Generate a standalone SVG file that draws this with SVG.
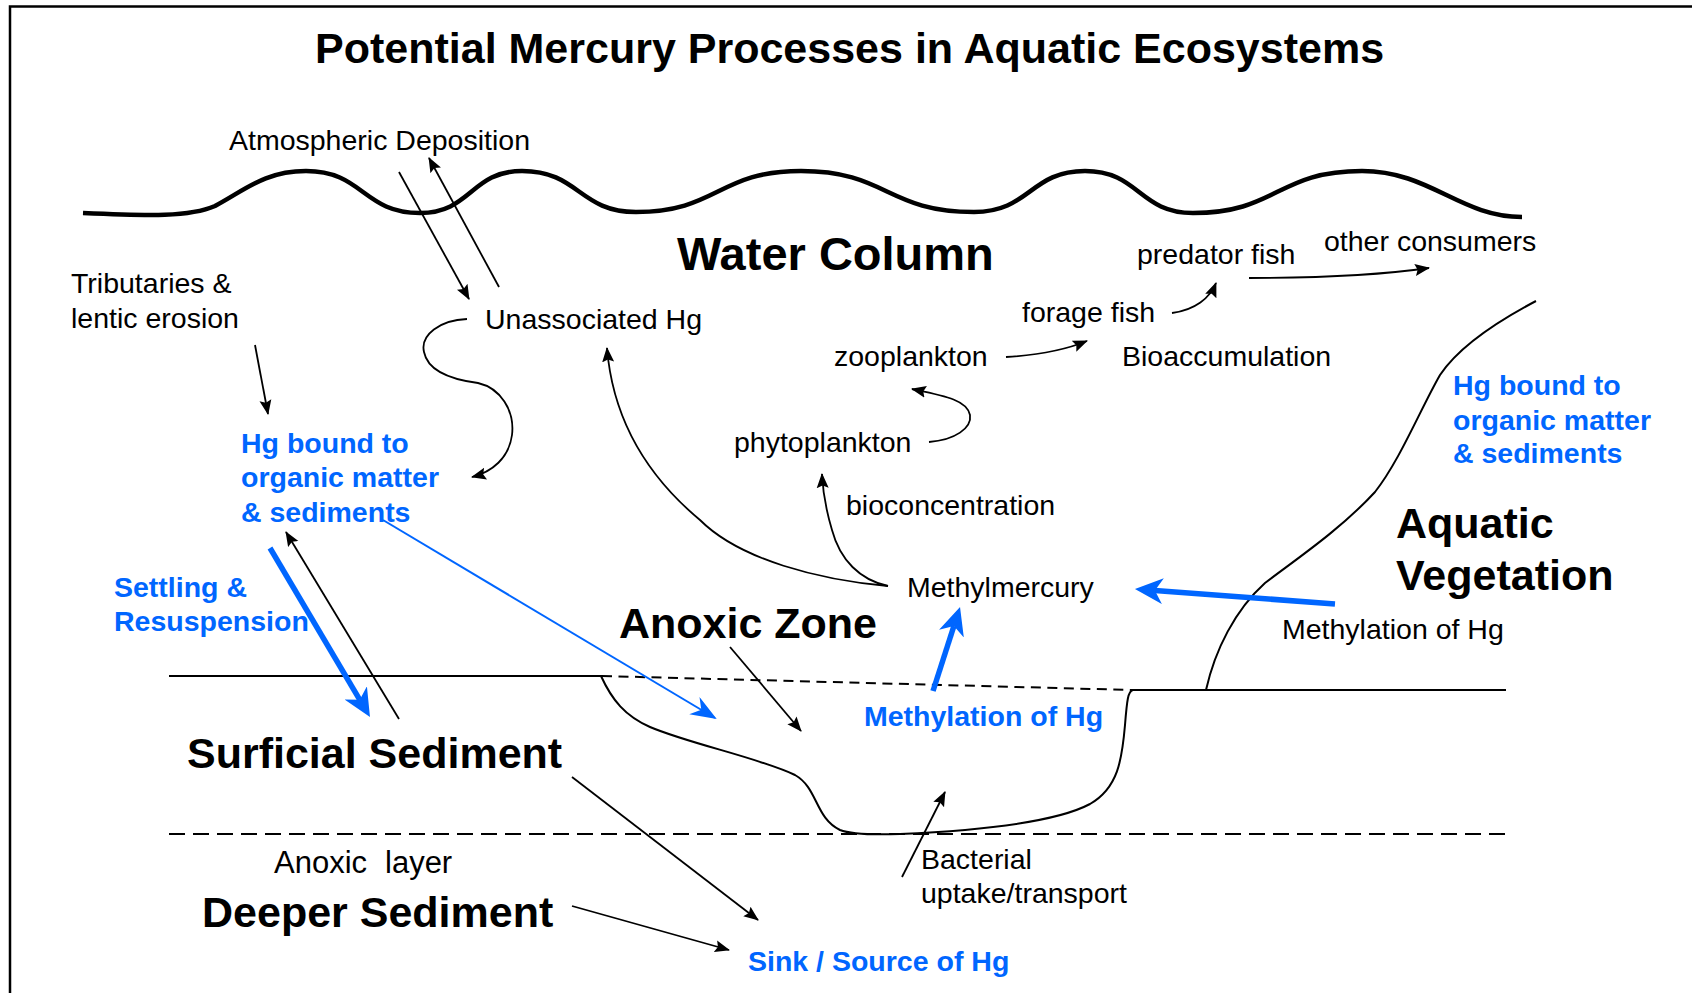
<svg xmlns="http://www.w3.org/2000/svg" width="1692" height="993" viewBox="0 0 1692 993">
<style>
text{font-family:"Liberation Sans",Arial,sans-serif;}
.t{font-size:28.5px;fill:#000}
.b{font-size:28.5px;font-weight:bold;fill:#0066ff}
.h{font-size:43px;font-weight:bold;fill:#000}
.c{fill:none;stroke:#000;stroke-width:1.8}
.cb{fill:none;stroke:#0066ff;stroke-width:5.5}
.cbt{fill:none;stroke:#0066ff;stroke-width:2}
.ln{fill:none;stroke:#000;stroke-width:2}
</style>
<defs>
<marker id="ah" markerUnits="userSpaceOnUse" markerWidth="16" markerHeight="14" refX="14" refY="6.5" orient="auto">
<path d="M0,0.5 L15,6.5 L0,12.5 L2.5,6.5 Z" fill="#000"/>
</marker>
<marker id="ahb" markerUnits="userSpaceOnUse" markerWidth="30" markerHeight="28" refX="8" refY="13" orient="auto">
<path d="M0,0 L28,13 L0,26 L8,13 Z" fill="#0066ff"/>
</marker>
<marker id="ahbt" markerUnits="userSpaceOnUse" markerWidth="28" markerHeight="22" refX="24" refY="10" orient="auto">
<path d="M0,0 L26,10 L0,20 L8,10 Z" fill="#0066ff"/>
</marker>
</defs>
<rect width="1692" height="993" fill="#fff"/>
<g id="scene">
<rect x="10" y="6.5" width="1700" height="1000" fill="none" stroke="#000" stroke-width="2.5"/>
<path id="surface" d="M83 213 C150 216 190 217 215 206 C245 190 265 171 306 171 C363 171 363 213 420 213 C471 213 471 171 522 171 C579 171 579 212 636 212 C718 212 718 171 801 171 C887 171 887 212 974 212 C1030 212 1030 171 1085 171 C1139 171 1139 213 1193 213 C1277 213 1277 171 1362 171 C1430 171 1460 217 1522 217" fill="none" stroke="#000" stroke-width="4.5"/>
<path d="M169 676 H602" class="ln" stroke-width="2.5"/>
<path d="M602 676 L1132 690" class="ln" stroke-dasharray="10 6.5"/>
<path d="M1132 690 H1506" class="ln" stroke-width="2.5"/>
<path d="M169 834 H1506" class="ln" stroke-width="2.5" stroke-dasharray="16 8"/>
<path id="basin" d="M601 676 C612 700 625 716 650 727 C690 744 760 758 795 775 C818 788 815 818 840 830 C850 834 870 835 900 834 C990 830 1060 820 1090 804 C1118 788 1122 760 1125 725 C1127 700 1128 691 1133 690" class="ln"/>
<path id="vegetation-edge" d="M1536 301 C1500 320 1460 345 1440 375 C1420 410 1400 460 1375 492 C1340 530 1295 560 1265 583 C1235 610 1215 650 1206 690" class="ln"/>
</g>
<g id="connectors">
<path class="c" d="M399 172 L469 299" marker-end="url(#ah)"/>
<path class="c" d="M499 287 L429 158" marker-end="url(#ah)"/>
<path class="c" d="M255 345 L268 414" marker-end="url(#ah)"/>
<path class="c" d="M467 319 C440 320 420 335 424 352 C428 372 455 380 478 383 C500 388 515 410 512 435 C509 458 492 472 472 477" marker-end="url(#ah)"/>
<path class="c" d="M888 586 C820 580 740 560 700 520 C640 470 612 410 607 348" marker-end="url(#ah)"/>
<path class="c" d="M888 586 C860 580 840 560 832 530 C826 510 823 495 822 474" marker-end="url(#ah)"/>
<path class="c" d="M929 442 C955 440 972 428 970 415 C967 400 945 396 912 389" marker-end="url(#ah)"/>
<path class="c" d="M1006 357 C1040 355 1065 350 1087 341" marker-end="url(#ah)"/>
<path class="c" d="M1172 313 C1195 310 1210 298 1216 283" marker-end="url(#ah)"/>
<path class="c" d="M1249 278 C1320 278 1380 275 1429 268" marker-end="url(#ah)"/>
<path class="cb" d="M270 548 L359.8 699.8" marker-end="url(#ahb)"/>
<path class="c" d="M399 719 L286 532" marker-end="url(#ah)"/>
<path class="cbt" d="M383 520 L715 718" marker-end="url(#ahbt)"/>
<path class="c" d="M730 647 L801 731" marker-end="url(#ah)"/>
<path class="cb" d="M933 691 L953.9 626" marker-end="url(#ahb)"/>
<path class="cb" d="M1335 604 L1154.9 590.5" marker-end="url(#ahb)"/>
<path class="c" d="M572 777 L758 920" marker-end="url(#ah)"/>
<path class="c" d="M572 906 L729 950" marker-end="url(#ah)"/>
<path class="c" d="M902 877 L945 792" marker-end="url(#ah)"/>
</g>
<g id="title"><text x="315" y="63" style="font-size:43px;font-weight:bold">Potential Mercury Processes in Aquatic Ecosystems</text></g>
<g id="atmospheric-deposition"><text class="t" x="229" y="150">Atmospheric Deposition</text></g>
<g id="tributaries"><text class="t" x="71" y="293">Tributaries &amp;</text><text class="t" x="71" y="328">lentic erosion</text></g>
<g id="unassociated-hg"><text class="t" x="485" y="329">Unassociated Hg</text></g>
<g id="water-column"><text x="677" y="270" style="font-size:47px;font-weight:bold">Water Column</text></g>
<g id="predator-fish"><text class="t" x="1137" y="264">predator fish</text></g>
<g id="other-consumers"><text class="t" x="1324" y="251">other consumers</text></g>
<g id="forage-fish"><text class="t" x="1022" y="322">forage fish</text></g>
<g id="zooplankton"><text class="t" x="834" y="366">zooplankton</text></g>
<g id="bioaccumulation"><text class="t" x="1122" y="366">Bioaccumulation</text></g>
<g id="phytoplankton"><text class="t" x="734" y="452">phytoplankton</text></g>
<g id="bioconcentration"><text class="t" x="846" y="515">bioconcentration</text></g>
<g id="methylmercury"><text class="t" x="907" y="597">Methylmercury</text></g>
<g id="anoxic-zone"><text class="h" x="619" y="638">Anoxic Zone</text></g>
<g id="methylation-vegetation"><text class="t" x="1282" y="639">Methylation of Hg</text></g>
<g id="aquatic-vegetation"><text class="h" x="1396" y="538">Aquatic</text><text class="h" x="1396" y="590">Vegetation</text></g>
<g id="hg-bound-left"><text class="b" x="241" y="453">Hg bound to</text><text class="b" x="241" y="487">organic matter</text><text class="b" x="241" y="522">&amp; sediments</text></g>
<g id="hg-bound-right"><text class="b" x="1453" y="395">Hg bound to</text><text class="b" x="1453" y="430">organic matter</text><text class="b" x="1453" y="463">&amp; sediments</text></g>
<g id="settling"><text class="b" x="114" y="597">Settling &amp;</text><text class="b" x="114" y="631">Resuspension</text></g>
<g id="surficial-sediment"><text class="h" x="187" y="768">Surficial Sediment</text></g>
<g id="methylation-sediment"><text class="b" x="864" y="726">Methylation of Hg</text></g>
<g id="anoxic-layer"><text class="t" x="274" y="873" style="font-size:31px">Anoxic <tspan x="385">layer</tspan></text></g>
<g id="deeper-sediment"><text class="h" x="202" y="927">Deeper Sediment</text></g>
<g id="bacterial"><text class="t" x="921" y="869">Bacterial</text><text class="t" x="921" y="903">uptake/transport</text></g>
<g id="sink-source"><text class="b" x="748" y="971">Sink / Source of Hg</text></g>
</svg>
